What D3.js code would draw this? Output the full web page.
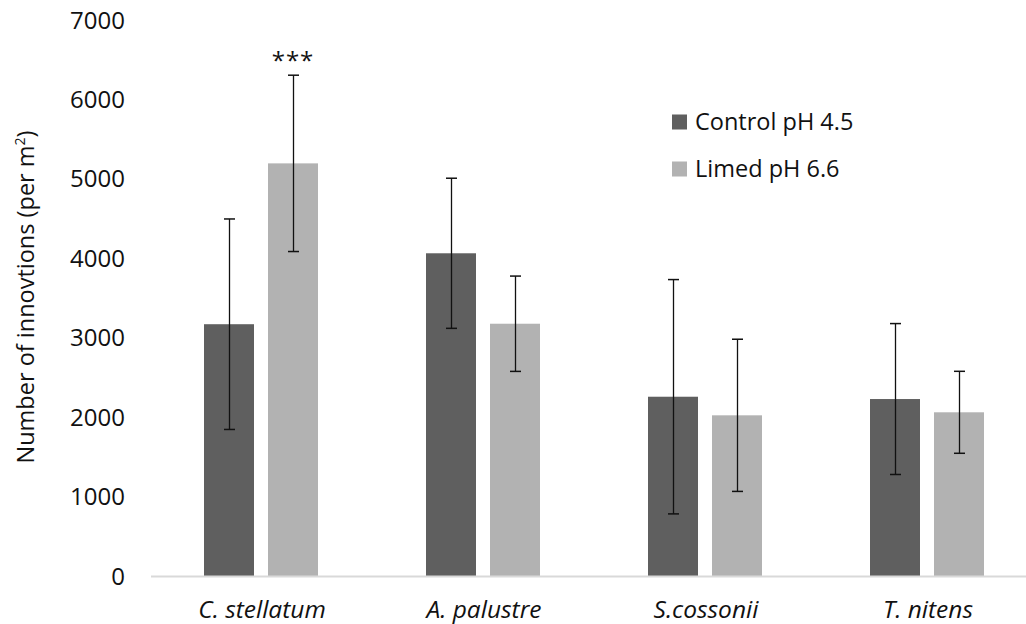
<!DOCTYPE html>
<html>
<head>
<meta charset="utf-8">
<script src="https://cdn.jsdelivr.net/npm/d3@7"></script>
<style>
  html, body { margin: 0; padding: 0; background: #fff; }
  svg { display: block; }
  text { font-family: "Open Sans", "Noto Sans", sans-serif; fill: #111; }
</style>
</head>
<body>
<svg id="chart" width="1026" height="624"></svg>
<script>
// ---- data ----
const categories = ["C. stellatum", "A. palustre", "S.cossonii", "T. nitens"];
const seriesNames = ["Control pH 4.5", "Limed pH 6.6"];
const controlValues = [3170, 4063, 2257, 2228];
const controlErrors = [1325, 945, 1475, 950];
const limedValues = [5195, 3176, 2023, 2061];
const limedErrors = [1110, 600, 958, 516];
const significance = ["***", "", "", ""];
const yTicks = [0, 1000, 2000, 3000, 4000, 5000, 6000, 7000];

const colors = { control: "#5f5f5f", limed: "#b2b2b2" };

const svg = d3.select("#chart");

const y = d3.scaleLinear().domain([0, 7000]).range([576, 20]);
const x0 = d3.scaleBand().domain(categories).range([151, 1039]).padding(0);
const x1 = d3.scaleBand().domain(["control", "limed"]).range([53, 167]).paddingInner(0.21875).paddingOuter(0);

const rows = categories.map((c, i) => ({
  cat: c,
  sig: significance[i],
  bars: [
    { key: "control", value: controlValues[i], err: controlErrors[i] },
    { key: "limed", value: limedValues[i], err: limedErrors[i] }
  ]
}));

// y tick labels
svg.append("g").selectAll("text").data(yTicks).join("text")
  .attr("x", 125)
  .attr("y", d => y(d))
  .attr("dy", "0.36em")
  .attr("text-anchor", "end")
  .style("font-size", "24px")
  .text(d => d);

// y axis title
const yt = svg.append("text")
  .attr("transform", "translate(34,297) rotate(-90)")
  .attr("text-anchor", "middle")
  .style("font-size", "23.5px");
yt.append("tspan").text("Number of innovtions (per m");
yt.append("tspan").attr("dy", -9).style("font-size", "14px").text("2");
yt.append("tspan").attr("dy", 9).text(")");

// bars
const groups = svg.append("g").selectAll("g").data(rows).join("g")
  .attr("transform", d => `translate(${x0(d.cat)},0)`);

groups.selectAll("rect").data(d => d.bars).join("rect")
  .attr("x", d => x1(d.key))
  .attr("y", d => y(d.value))
  .attr("width", x1.bandwidth())
  .attr("height", d => y(0) - y(d.value))
  .attr("fill", d => colors[d.key]);

// x axis baseline
svg.append("line")
  .attr("x1", x0.range()[0]).attr("x2", x0.range()[1])
  .attr("y1", y(0) + 0.5).attr("y2", y(0) + 0.5)
  .attr("stroke", "#d9d9d9").attr("stroke-width", 2);

// error bars
const eb = groups.selectAll("g.err").data(d => d.bars).join("g").attr("class", "err");
const cx = d => Math.round(x1(d.key) + x1.bandwidth() / 2) + 0.5;
eb.append("line")
  .attr("x1", cx).attr("x2", cx)
  .attr("y1", d => y(d.value + d.err)).attr("y2", d => y(d.value - d.err))
  .attr("stroke", "#111").attr("stroke-width", 1.3);
eb.append("line")
  .attr("x1", d => cx(d) - 5.5).attr("x2", d => cx(d) + 5.5)
  .attr("y1", d => y(d.value + d.err)).attr("y2", d => y(d.value + d.err))
  .attr("stroke", "#111").attr("stroke-width", 1.5);
eb.append("line")
  .attr("x1", d => cx(d) - 5.5).attr("x2", d => cx(d) + 5.5)
  .attr("y1", d => y(d.value - d.err)).attr("y2", d => y(d.value - d.err))
  .attr("stroke", "#111").attr("stroke-width", 1.5);

// significance marks (above limed bar)
groups.filter(d => d.sig).append("text")
  .attr("x", x1("limed") + x1.bandwidth() / 2)
  .attr("y", d => y(d.bars[1].value + d.bars[1].err) - 6)
  .attr("text-anchor", "middle")
  .style("font-size", "24px")
  .style("letter-spacing", "1px")
  .text(d => d.sig);

// category labels
svg.append("g").selectAll("text").data(categories).join("text")
  .attr("x", d => x0(d) + x0.bandwidth() / 2)
  .attr("y", 618)
  .attr("text-anchor", "middle")
  .style("font-size", "24.5px")
  .style("font-style", "italic")
  .text(d => d);

// legend
const legend = svg.append("g").attr("transform", "translate(672,0)");
const legendRows = [
  { key: "control", name: seriesNames[0], cy: 122 },
  { key: "limed", name: seriesNames[1], cy: 169 }
];
legend.selectAll("rect").data(legendRows).join("rect")
  .attr("x", 0).attr("y", d => d.cy - 7.5)
  .attr("width", 15).attr("height", 15)
  .attr("fill", d => colors[d.key]);
legend.selectAll("text").data(legendRows).join("text")
  .attr("x", 23).attr("y", d => d.cy)
  .attr("dy", "0.36em")
  .style("font-size", "23.5px")
  .text(d => d.name);
</script>
</body>
</html>
